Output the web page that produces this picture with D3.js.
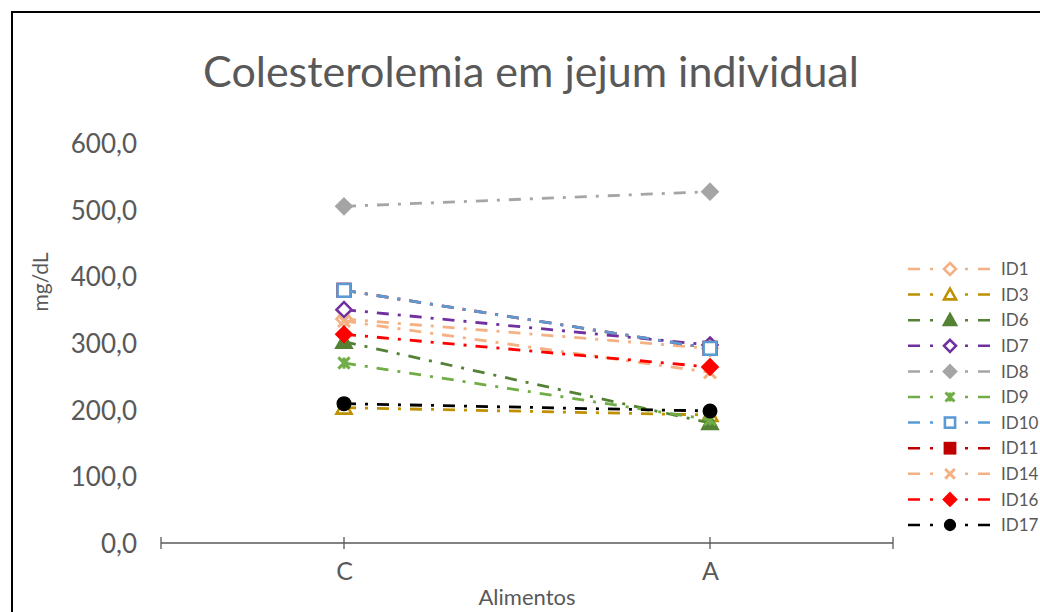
<!DOCTYPE html>
<html>
<head>
<meta charset="utf-8">
<script src="https://cdn.jsdelivr.net/npm/d3@7"></script>
<style>
  html, body { margin: 0; padding: 0; background: #fff; }
  svg { display: block; }
  text { font-family: Lato, "Open Sans", sans-serif; fill: #595959; }
</style>
</head>
<body>
<svg id="chart" width="1040" height="612"></svg>
<script>
// Categories on the x axis
const categories = ["C", "A"];

// Individuals (series names)
const seriesNames = ["ID1", "ID3", "ID6", "ID7", "ID8", "ID9", "ID10", "ID11", "ID14", "ID16", "ID17"];

// Fasting cholesterol (mg/dL) per individual, in the order of categories
const id1  = [336, 292];
const id3  = [203, 192];
const id6  = [302, 180];
const id7  = [350, 297];
const id8  = [505, 527];
const id9  = [270, 185];
const id10 = [379, 292];
const id11 = [379, 292];
const id14 = [333, 256];
const id16 = [313, 264];
const id17 = [209, 198];

// Y axis tick values
const yTicks = [0, 100, 200, 300, 400, 500, 600];

const seriesValues = [id1, id3, id6, id7, id8, id9, id10, id11, id14, id16, id17];

// Colour and marker per series
const seriesStyle = {
  ID1:  { color: "#F4B183", marker: "diamond",  filled: false },
  ID3:  { color: "#BF9000", marker: "triangle", filled: false },
  ID6:  { color: "#548235", marker: "triangle", filled: true },
  ID7:  { color: "#7030A0", marker: "diamond",  filled: false },
  ID8:  { color: "#A5A5A5", marker: "diamond",  filled: true },
  ID9:  { color: "#70AD47", marker: "star",     filled: false },
  ID10: { color: "#5B9BD5", marker: "square",   filled: false },
  ID11: { color: "#C00000", marker: "square",   filled: true },
  ID14: { color: "#F4B183", marker: "x",        filled: false },
  ID16: { color: "#FF0000", marker: "diamond",  filled: true },
  ID17: { color: "#000000", marker: "circle",   filled: true }
};

// Drawing order: ID11 sits under ID10 (same readings)
const drawOrder = ["ID1", "ID3", "ID6", "ID7", "ID8", "ID9", "ID11", "ID10", "ID14", "ID16", "ID17"];

const series = seriesNames.map((name, i) => ({
  name,
  ...seriesStyle[name],
  points: categories.map((c, j) => ({ cat: c, value: seriesValues[i][j] }))
}));

const svg = d3.select("#chart");

// Chart frame
svg.append("rect")
  .attr("x", 12).attr("y", 12)
  .attr("width", 1100).attr("height", 700)
  .attr("fill", "#fff")
  .attr("stroke", "#000")
  .attr("stroke-width", 2);

const plotLeft = 161, plotRight = 893, plotTop = 143, plotBottom = 543;

const x = d3.scalePoint().domain(categories).range([plotLeft, plotRight]).padding(0.5);
const y = d3.scaleLinear().domain([0, 600]).range([plotBottom, plotTop]);

// Title
svg.append("text")
  .attr("x", 531).attr("y", 87)
  .attr("text-anchor", "middle")
  .style("font-size", "43px")
  .text("Colesterolemia em jejum individual");

// Y axis: labels only
const yAxis = d3.axisLeft(y)
  .tickValues(yTicks)
  .tickSize(0)
  .tickPadding(0)
  .tickFormat(d => d3.format(".1f")(d).replace(".", ","));
const gy = svg.append("g")
  .attr("transform", `translate(137,0)`)
  .call(yAxis);
gy.select(".domain").remove();
gy.selectAll("text")
  .attr("dy", "0.36em")
  .style("font-size", "26px")
  .style("font-family", "Lato, sans-serif")
  .attr("fill", "#595959");

svg.append("text")
  .attr("transform", "translate(48,282) rotate(-90)")
  .attr("text-anchor", "middle")
  .style("font-size", "21px")
  .text("mg/dL");

// X axis
const xAxis = d3.axisBottom(x).tickSize(0).tickPadding(19);
const gx = svg.append("g")
  .attr("transform", `translate(0,${plotBottom})`)
  .call(xAxis);
gx.select(".domain")
  .attr("d", `M${plotLeft},0H${plotRight}`)
  .attr("stroke", "#595959")
  .attr("stroke-width", 1.5);
gx.selectAll("text")
  .attr("dy", "0.71em")
  .style("font-size", "25px")
  .style("font-family", "Lato, sans-serif")
  .attr("fill", "#595959");

// Tick marks crossing the axis line
const tickXs = [plotLeft, ...categories.map(c => x(c)), plotRight];
gx.selectAll("line.cross")
  .data(tickXs)
  .join("line")
  .attr("class", "cross")
  .attr("x1", d => d).attr("x2", d => d)
  .attr("y1", -6).attr("y2", 6)
  .attr("stroke", "#595959")
  .attr("stroke-width", 1.3);

svg.append("text")
  .attr("x", 527).attr("y", 605)
  .attr("text-anchor", "middle")
  .style("font-size", "22px")
  .text("Alimentos");

// Marker drawing
function drawMarker(g, type, color, filled, size) {
  const s = size / 2;
  const fill = filled ? color : "#fff";
  if (type === "diamond") {
    g.append("path").attr("d", `M0,${-s}L${s},0L0,${s}L${-s},0Z`)
      .attr("fill", fill).attr("stroke", color).attr("stroke-width", 2.6);
  } else if (type === "triangle") {
    g.append("path").attr("d", `M0,${-s}L${s},${s * 0.8}L${-s},${s * 0.8}Z`)
      .attr("fill", fill).attr("stroke", color).attr("stroke-width", 2.6);
  } else if (type === "square") {
    const h = s * 0.85;
    g.append("rect").attr("x", -h).attr("y", -h).attr("width", 2 * h).attr("height", 2 * h)
      .attr("fill", fill).attr("stroke", color).attr("stroke-width", 2.6);
  } else if (type === "circle") {
    g.append("circle").attr("r", s * 0.9)
      .attr("fill", fill).attr("stroke", color).attr("stroke-width", 1.5);
  } else if (type === "x") {
    const h = s * 0.8;
    g.append("path").attr("d", `M${-h},${-h}L${h},${h}M${h},${-h}L${-h},${h}`)
      .attr("fill", "none").attr("stroke", color).attr("stroke-width", 3);
  } else if (type === "star") {
    const h = s * 0.75;
    g.append("path").attr("d", `M${-h},${-h}L${h},${h}M${h},${-h}L${-h},${h}M0,${-h}L0,${h}`)
      .attr("fill", "none").attr("stroke", color).attr("stroke-width", 3);
  }
}

const dash = "12,9,3,9";
const line = d3.line().x(d => x(d.cat)).y(d => y(d.value));

// Series lines and markers
drawOrder.map(n => series.find(s => s.name === n)).forEach(sr => {
  const g = svg.append("g").attr("class", "series");
  g.append("path")
    .datum(sr.points)
    .attr("d", line)
    .attr("fill", "none")
    .attr("stroke", sr.color)
    .attr("stroke-width", 2.8)
    .attr("stroke-dasharray", dash);
  sr.points.forEach(p => {
    const m = g.append("g").attr("transform", `translate(${x(p.cat)},${y(p.value)})`);
    drawMarker(m, sr.marker, sr.color, sr.filled, 15);
  });
});

// Legend
const legend = svg.append("g").attr("transform", "translate(908,269)");
series.forEach((sr, i) => {
  const row = legend.append("g").attr("transform", `translate(0,${i * 25.6})`);
  row.append("line")
    .attr("x1", 0).attr("x2", 82).attr("y1", 0).attr("y2", 0)
    .attr("stroke", sr.color).attr("stroke-width", 2.5)
    .attr("stroke-dasharray", "12,10,3,10");
  const m = row.append("g").attr("transform", "translate(42,0)");
  m.append("rect").attr("x", -7).attr("y", -4).attr("width", 14).attr("height", 8).attr("fill", "#fff");
  drawMarker(m, sr.marker, sr.color, sr.filled, 12);
  row.append("text")
    .attr("x", 93).attr("y", 0).attr("dy", "0.36em")
    .style("font-size", "17px")
    .text(sr.name);
});
</script>
</body>
</html>
